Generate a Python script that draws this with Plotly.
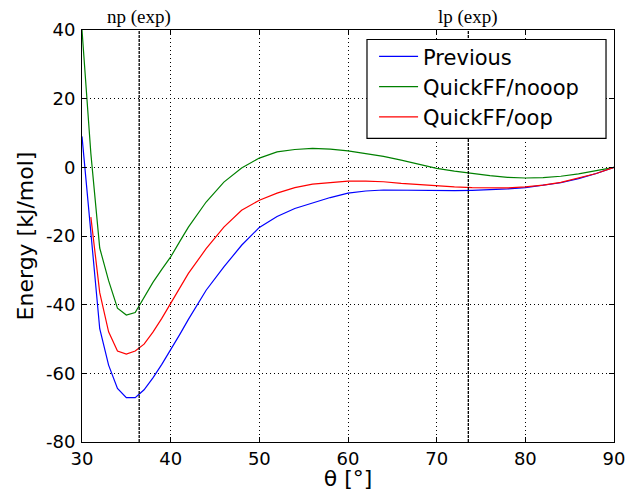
import plotly.graph_objects as go

# ---- data ----
theta_left = [30, 31, 32, 33, 34, 35, 36, 37, 38, 39, 40, 41, 42]
theta_right = [44, 46, 48, 50, 52, 54, 56, 58, 60, 62, 64, 66, 68, 70,
               72, 74, 76, 78, 80, 82, 84, 86, 88, 90]
theta = theta_left + theta_right

previous = [9, -20, -47, -57.6, -64.4, -67.1, -67.1, -64.8, -61.3, -57.4, -53.3, -48.8, -44.3,
            -35.8, -29.0, -22.7, -17.5, -14.3, -12.0, -10.4, -8.8, -7.5, -6.9, -6.6, -6.7,
            -6.8, -6.9, -6.8, -6.7, -6.6, -6.3, -5.9, -5.3, -4.5, -3.3, -1.8, 0]

nooop = [40, 4, -23.5, -33, -41, -43, -42.3, -38, -33.5, -29.7, -26.1, -21.7, -17.4,
         -10.1, -4.3, -0.2, 2.7, 4.5, 5.2, 5.5, 5.3, 4.8, 4.0, 3.2, 2.1,
         0.9, -0.3, -1.1, -1.8, -2.4, -2.9, -3.1, -3.0, -2.6, -1.9, -1.0, 0]

theta_oop = theta[1:]
oop = [-14.5, -36.5, -47.9, -53.5, -54.4, -53.5, -51.5, -48.0, -44.0, -39.7, -35.3, -30.9,
       -23.7, -17.4, -12.5, -9.6, -7.5, -5.9, -4.9, -4.4, -4.0, -4.0, -4.2, -4.7,
       -5.1, -5.5, -5.7, -5.9, -6.0, -6.0, -5.7, -5.2, -4.4, -3.2, -1.8, 0]

series_names = ["Previous", "QuickFF/nooop", "QuickFF/oop"]
series_colors = ["#0000ff", "#008000", "#ff0000"]

exp_angles = [36.45, 73.57]
exp_labels = ["np (exp)", "lp (exp)"]

x_ticks = [30, 40, 50, 60, 70, 80, 90]
y_ticks = [-80, -60, -40, -20, 0, 20, 40]
y_tick_labels = ["-80", "-60", "-40", "-20", "0", "20", "40"]

x_title = "θ [°]"
y_title = "Energy [kJ/mol]"

# ---- figure ----
fig = go.Figure()
for name, color, xs, ys in zip(series_names, series_colors,
                               [theta, theta, theta_oop],
                               [previous, nooop, oop]):
    fig.add_trace(go.Scatter(x=xs, y=ys, mode="lines", name=name,
                             line=dict(color=color, width=1.2)))

for ang, lab in zip(exp_angles, exp_labels):
    fig.add_shape(type="line", xref="x", yref="paper", x0=ang, x1=ang, y0=0, y1=1,
                  line=dict(color="black", width=1.3, dash="3px,1px"), layer="above")
    fig.add_annotation(x=ang, xref="x", y=1, yref="paper", text=lab, showarrow=False,
                       yanchor="bottom", xanchor="center", yshift=0,
                       font=dict(family="Liberation Serif", size=19, color="black"))

# legend frame (drawn as a box so its padding matches the reference)
fig.add_shape(type="rect", xref="paper", yref="paper", x0=0.5357, x1=0.985, y0=0.737, y1=0.977,
              line=dict(color="black", width=1.2), fillcolor="white", layer="above")

axis_common = dict(showline=True, linecolor="black", linewidth=1, mirror="allticks",
                   ticks="inside", ticklen=5, tickcolor="black", tickwidth=1,
                   showgrid=True, gridcolor="black", gridwidth=1, griddash="1px,3px",
                   zeroline=False,
                   tickfont=dict(family="DejaVu Sans", size=18, color="black"))

fig.update_xaxes(range=[30, 90], tickvals=x_ticks,
                 title=dict(text=x_title, font=dict(family="DejaVu Sans", size=22, color="black"),
                            standoff=10),
                 **axis_common)
fig.update_yaxes(range=[-80, 40], tickvals=y_ticks, ticktext=y_tick_labels,
                 ticklabelstandoff=2,
                 title=dict(text=y_title, font=dict(family="DejaVu Sans", size=22, color="black"),
                            standoff=6),
                 **axis_common)

fig.update_layout(
    width=628, height=491,
    margin=dict(l=82, r=14, t=30, b=49, autoexpand=False),
    paper_bgcolor="white", plot_bgcolor="white",
    font=dict(family="DejaVu Sans", color="black"),
    legend=dict(x=0.549, y=0.985, xanchor="left", yanchor="top",
                bgcolor="rgba(0,0,0,0)", borderwidth=0, itemwidth=39,
                font=dict(family="DejaVu Sans", size=21, color="black"),
                tracegroupgap=0),
)

fig.write_html("out.html", config={"displayModeBar": False},
               post_script="document.body.style.margin='0px';")
